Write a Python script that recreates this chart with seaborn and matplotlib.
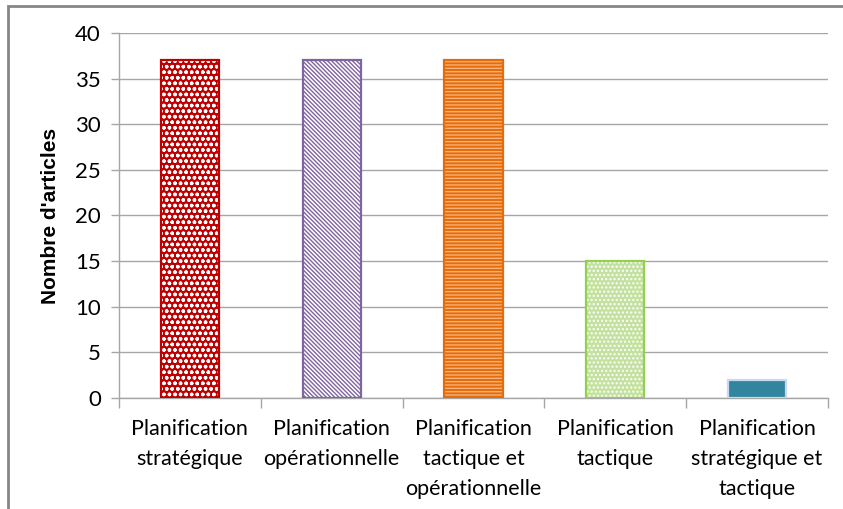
# ============================================
# Nombre d'articles par niveau de planification
# ============================================

import numpy as np
import pandas as pd
import matplotlib
matplotlib.use("Agg")
import matplotlib.pyplot as plt
from matplotlib.patches import Rectangle
from matplotlib.ticker import FixedLocator
import seaborn as sns


# ============================================
# Data
# ============================================

categories = [
    "Planification\nstratégique",
    "Planification\nopérationnelle",
    "Planification\ntactique et\nopérationnelle",
    "Planification\ntactique",
    "Planification\nstratégique et\ntactique",
]

articles = [37, 37, 37, 15, 2]

face_colors = ["#C00000", "#FFFFFF", "#E46C0A", "#C4E1A0", "#31859C"]
edge_colors = ["#C00000", "#8064A2", "#E46C0A", "#92D050", "#C6D9F1"]
hatch_colors = ["#FFFFFF", "#8064A2", "#F6B27A", "#FFFFFF", None]
hatches = ["ooo", "\\\\\\\\\\\\\\\\", "-----", "....", None]


# ============================================
# Style
# ============================================

sns.set_style("white")
plt.rcParams["font.family"] = ["Lato", "DejaVu Sans"]
plt.rcParams["hatch.linewidth"] = 1.0

df = pd.DataFrame({"categorie": categories, "articles": articles})

fig = plt.figure(figsize=(8.43, 5.09), dpi=100)
ax = fig.add_axes([0.1412, 0.2181, 0.8410, 0.7171])

sns.barplot(
    data=df,
    x="categorie",
    y="articles",
    hue="categorie",
    palette=face_colors,
    width=0.41,
    saturation=1,
    legend=False,
    ax=ax,
    zorder=2,
)

# Hatch overlays + outline for each bar
for patch, fc, ec, hc, h in zip(ax.patches, face_colors, edge_colors, hatch_colors, hatches):
    patch.set_facecolor(fc)
    patch.set_edgecolor("none")
    x, y = patch.get_x(), patch.get_y()
    w, hgt = patch.get_width(), patch.get_height()
    if h is not None:
        ax.add_patch(Rectangle((x, y), w, hgt, facecolor="none",
                               edgecolor=hc, hatch=h, linewidth=0, zorder=3))
    ax.add_patch(Rectangle((x, y), w, hgt, facecolor="none",
                           edgecolor=ec, linewidth=1.6, zorder=4))


# ============================================
# Axes
# ============================================

ax.set_ylim(0, 40)
ax.set_xlim(-0.5, len(categories) - 0.5)
ax.set_yticks(np.arange(0, 41, 5))
ax.yaxis.grid(True, color="#A6A6A6", linewidth=1.0)
ax.set_axisbelow(True)

for side in ["top", "right"]:
    ax.spines[side].set_visible(False)
for side in ["left", "bottom"]:
    ax.spines[side].set_color("#A6A6A6")
    ax.spines[side].set_linewidth(1.0)

ax.tick_params(axis="y", direction="out", length=6, color="#A6A6A6",
               width=1.0, labelsize=16, pad=7, left=True, labelcolor="#000000")
ax.tick_params(axis="x", which="major", length=0, labelsize=15.5, pad=15,
               labelcolor="#000000")

ax.xaxis.set_minor_locator(FixedLocator(np.arange(-0.5, len(categories), 1.0)))
ax.tick_params(axis="x", which="minor", direction="out", length=7,
               color="#A6A6A6", width=1.0, bottom=True)

for label in ax.get_xticklabels():
    label.set_linespacing(1.62)

ax.set_xlabel("")
ax.set_ylabel("Nombre d'articles", fontsize=15, fontweight="bold",
              family=["Liberation Sans", "DejaVu Sans"], labelpad=11,
              color="#000000")

# Chart frame
fig.patches.append(Rectangle((8 / 843, -0.1), 1.2, 1.1 - 6 / 509,
                             transform=fig.transFigure, facecolor="none",
                             edgecolor="#868686", linewidth=2.0))

plt.savefig("out.png", dpi=100)
